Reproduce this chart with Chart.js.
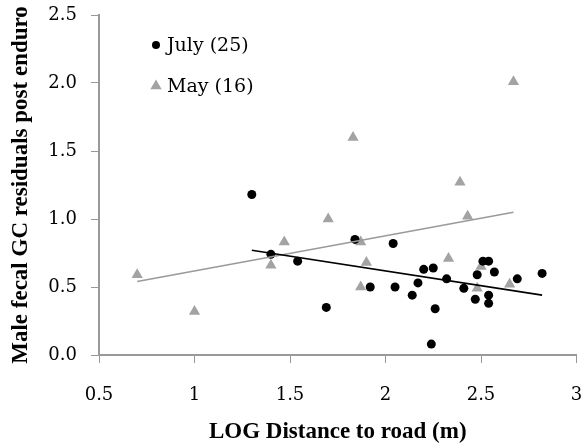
<!DOCTYPE html>
<html>
<head>
<meta charset="utf-8">
<script src="https://cdn.jsdelivr.net/npm/chart.js@4/dist/chart.umd.min.js"></script>
<style>
  html, body { margin: 0; padding: 0; background: #fff; }
  #wrap { width: 583px; height: 446px; position: relative; }
</style>
</head>
<body>
<div id="wrap"><canvas id="chart"></canvas></div>
<script>
// Datos
const julyX = [1.30, 1.40, 1.54, 1.69, 1.84, 1.92, 2.04, 2.05, 2.14, 2.17, 2.20, 2.24, 2.25, 2.26, 2.32, 2.41, 2.47, 2.48, 2.51, 2.54, 2.54, 2.54, 2.57, 2.69, 2.82];
const julyY = [1.18, 0.74, 0.69, 0.35, 0.85, 0.50, 0.82, 0.50, 0.44, 0.53, 0.63, 0.08, 0.64, 0.34, 0.56, 0.49, 0.41, 0.59, 0.69, 0.69, 0.44, 0.38, 0.61, 0.56, 0.60];

const mayX = [0.70, 1.00, 1.40, 1.47, 1.70, 1.83, 1.87, 1.87, 1.90, 2.33, 2.39, 2.43, 2.48, 2.50, 2.65, 2.67];
const mayY = [0.59, 0.32, 0.66, 0.83, 1.00, 1.60, 0.83, 0.50, 0.68, 0.71, 1.27, 1.02, 0.49, 0.65, 0.52, 2.01];

// Líneas de tendencia (extremos)
const julyTrendX = [1.30, 2.82];
const julyTrendY = [0.77, 0.44];
const mayTrendX = [0.70, 2.67];
const mayTrendY = [0.54, 1.05];

const seriesLabels = ['July (25)', 'May (16)'];
const xTitle = 'LOG Distance to road (m)';
const yTitle = 'Male fecal GC residuals post enduro';

const toPoints = (xs, ys) => xs.map((x, i) => ({ x: x, y: ys[i] }));

const GRAY = '#a3a3a3';
const AXIS = '#999';
const tickFont = { family: 'DejaVu Serif', size: 18 };
const titleFont = { family: 'Liberation Serif', size: 23, weight: 'bold' };

// Leyenda dentro del área del gráfico
const insideLegend = {
    id: 'insideLegend',
    afterDraw(chart) {
        const { ctx, chartArea } = chart;
        const x = chartArea.left + 57;
        ctx.save();
        ctx.font = '19px "DejaVu Serif"';
        ctx.textBaseline = 'middle';
        ctx.fillStyle = '#000';

        // July: punto negro
        let y = chartArea.top + 30;
        ctx.beginPath();
        ctx.arc(x, y, 4, 0, Math.PI * 2);
        ctx.fill();
        ctx.fillText(seriesLabels[0], x + 11, y + 1);

        // May: triángulo gris
        y = chartArea.top + 71;
        const r = 6.5;
        ctx.fillStyle = GRAY;
        ctx.beginPath();
        for (let k = 0; k < 3; k++) {
            const a = k * 2 * Math.PI / 3;
            const px = x + Math.sin(a) * r;
            const py = y - Math.cos(a) * r;
            if (k === 0) ctx.moveTo(px, py); else ctx.lineTo(px, py);
        }
        ctx.closePath();
        ctx.fill();
        ctx.fillStyle = '#000';
        ctx.fillText(seriesLabels[1], x + 11, y + 1);
        ctx.restore();
    }
};

new Chart(document.getElementById('chart'), {
    type: 'scatter',
    data: {
        datasets: [
            {
                label: 'July trend',
                type: 'line',
                data: toPoints(julyTrendX, julyTrendY),
                borderColor: '#000',
                borderWidth: 1.6,
                pointRadius: 0,
                fill: false
            },
            {
                label: 'May trend',
                type: 'line',
                data: toPoints(mayTrendX, mayTrendY),
                borderColor: '#9a9a9a',
                borderWidth: 1.6,
                pointRadius: 0,
                fill: false
            },
            {
                label: seriesLabels[0],
                data: toPoints(julyX, julyY),
                backgroundColor: '#000',
                borderWidth: 0,
                pointRadius: 4.5,
                pointStyle: 'circle'
            },
            {
                label: seriesLabels[1],
                data: toPoints(mayX, mayY),
                backgroundColor: GRAY,
                borderWidth: 0,
                pointRadius: 6.5,
                pointStyle: 'triangle'
            }
        ]
    },
    options: {
        responsive: true,
        maintainAspectRatio: false,
        animation: false,
        layout: { padding: { left: 0, right: 5, top: 15, bottom: 0 } },
        plugins: {
            legend: { display: false },
            tooltip: { enabled: false }
        },
        scales: {
            x: {
                type: 'linear',
                min: 0.5,
                max: 3,
                // alto fijo del eje y sin margen extra a la derecha
                afterFit: scale => { scale.height = 91; scale.paddingLeft = 0; scale.paddingRight = 0; },
                ticks: { stepSize: 0.5, font: tickFont, color: '#000', padding: 22, maxRotation: 0, callback: v => String(v) },
                grid: { drawOnChartArea: false, color: AXIS },
                border: { color: AXIS, width: 2 },
                title: { display: true, text: xTitle, font: titleFont, color: '#000', padding: { top: 0, bottom: 0 } }
            },
            y: {
                type: 'linear',
                min: 0,
                max: 2.5,
                afterFit: scale => { scale.width = 99; scale.paddingTop = 0; scale.paddingBottom = 0; },
                ticks: { stepSize: 0.5, font: tickFont, color: '#000', padding: 14, callback: v => v.toFixed(1) },
                grid: { drawOnChartArea: false, color: AXIS },
                border: { color: AXIS, width: 2 },
                title: { display: true, text: yTitle, font: titleFont, color: '#000', padding: { top: 7, bottom: 0 } }
            }
        }
    },
    plugins: [insideLegend]
});
</script>
</body>
</html>
